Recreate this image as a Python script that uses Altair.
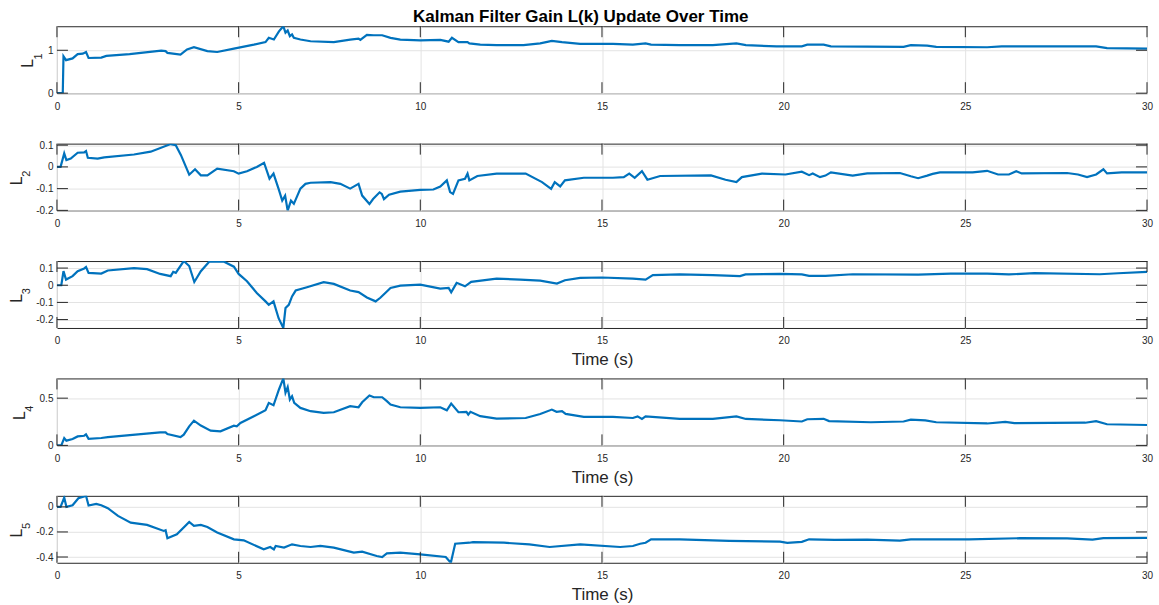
import altair as alt
import pandas as pd

# ---------------- data ----------------
t1 = [0, 0.16, 0.18, 0.25, 0.43, 0.57, 0.71, 0.8, 0.87, 1.22, 1.36, 2.0, 2.87, 2.99, 3.04, 3.4, 3.58, 3.77, 4.14, 4.41,
      4.87, 5.42, 5.74, 5.83, 5.97, 6.11, 6.23, 6.29, 6.35, 6.41, 6.47, 6.52, 6.7, 6.98, 7.62, 8.07, 8.3, 8.35, 8.53, 8.72,
      8.95, 9.18, 9.45, 10.0, 10.55, 10.78, 10.87, 11.05, 11.3, 11.35, 11.65, 12.1, 12.84, 13.3, 13.62, 13.9, 14.4, 15.3, 15.85, 16.2,
      16.35, 17.14, 18.05, 18.7, 18.96, 19.8, 20.5, 20.65, 21.1, 21.3, 23.3, 23.5, 23.95, 24.2, 25.6, 26.0, 28.4, 28.6, 28.9, 30.0]
v1 = [0, 0, 0.86, 0.77, 0.81, 0.91, 0.92, 0.96, 0.82, 0.83, 0.87, 0.91, 0.99, 0.98, 0.94, 0.90, 1.02, 1.07, 0.98, 0.96,
      1.04, 1.13, 1.19, 1.29, 1.25, 1.44, 1.56, 1.41, 1.46, 1.33, 1.37, 1.29, 1.25, 1.21, 1.19, 1.25, 1.27, 1.24, 1.36, 1.35,
      1.35, 1.29, 1.25, 1.23, 1.24, 1.20, 1.29, 1.19, 1.19, 1.16, 1.13, 1.12, 1.12, 1.16, 1.22, 1.19, 1.15, 1.15, 1.13, 1.16,
      1.13, 1.12, 1.12, 1.16, 1.12, 1.09, 1.09, 1.13, 1.13, 1.09, 1.08, 1.12, 1.11, 1.08, 1.07, 1.09, 1.09, 1.09, 1.05, 1.04]

t2 = [0, 0.1, 0.2, 0.26, 0.38, 0.57, 0.75, 0.8, 0.85, 1.12, 1.3, 2.12, 2.58, 3.13, 3.27, 3.41, 3.64, 3.8, 3.96, 4.14,
      4.41, 4.87, 5.0, 5.23, 5.5, 5.7, 5.85, 5.96, 6.1, 6.2, 6.28, 6.35, 6.44, 6.52, 6.7, 6.84, 6.98, 7.53, 7.8, 8.07,
      8.3, 8.4, 8.6, 8.7, 8.88, 8.94, 9.0, 9.14, 9.45, 10.0, 10.36, 10.55, 10.73, 10.82, 10.9, 11.05, 11.23, 11.3, 11.35, 11.57,
      12.1, 12.9, 13.35, 13.6, 13.7, 13.85, 13.98, 14.5, 15.3, 15.6, 15.75, 15.9, 16.1, 16.25, 16.6, 18.0, 18.4, 18.7, 18.85, 19.4,
      20.05, 20.5, 20.7, 20.8, 21.0, 21.15, 21.3, 21.9, 22.3, 23.2, 23.5, 23.7, 23.95, 24.1, 24.3, 25.2, 25.6, 25.9, 26.2, 26.4,
      26.55, 27.8, 28.1, 28.35, 28.6, 28.8, 28.9, 29.3, 30.0]
v2 = [0, 0, 0.062, 0.031, 0.038, 0.065, 0.067, 0.073, 0.042, 0.038, 0.044, 0.057, 0.070, 0.105, 0.10, 0.055, -0.036, -0.011, -0.039, -0.039,
      -0.008, -0.020, -0.031, -0.020, 0.0, 0.019, -0.054, -0.031, -0.101, -0.155, -0.132, -0.201, -0.155, -0.17, -0.10, -0.078, -0.073, -0.07, -0.078, -0.10,
      -0.078, -0.132, -0.171, -0.148, -0.117, -0.124, -0.148, -0.128, -0.114, -0.106, -0.104, -0.09, -0.062, -0.116, -0.124, -0.062, -0.055, -0.031, -0.062, -0.042,
      -0.031, -0.031, -0.07, -0.101, -0.07, -0.09, -0.062, -0.05, -0.05, -0.047, -0.031, -0.05, -0.02, -0.059, -0.042, -0.039, -0.059, -0.07, -0.047, -0.031,
      -0.035, -0.022, -0.038, -0.03, -0.047, -0.04, -0.025, -0.04, -0.03, -0.028, -0.043, -0.052, -0.04, -0.032, -0.025, -0.025, -0.018, -0.035, -0.035, -0.02,
      -0.03, -0.028, -0.035, -0.047, -0.035, -0.011, -0.03, -0.025, -0.025]

t3 = [0, 0.12, 0.18, 0.25, 0.43, 0.57, 0.75, 0.8, 0.87, 1.22, 1.4, 2.12, 2.48, 2.84, 3.13, 3.2, 3.27, 3.49, 3.64, 3.78,
      3.96, 4.19, 4.6, 4.87, 5.0, 5.23, 5.5, 5.74, 5.83, 5.96, 6.1, 6.23, 6.29, 6.38, 6.47, 6.57, 6.88, 7.34, 7.62, 8.07,
      8.3, 8.53, 8.77, 8.9, 9.18, 9.45, 10.0, 10.55, 10.78, 10.85, 11.0, 11.23, 11.4, 12.1, 12.75, 13.3, 13.76, 13.98, 14.4, 15.0,
      15.85, 16.2, 16.4, 17.14, 18.05, 18.8, 18.95, 19.9, 20.5, 20.7, 21.15, 21.9, 23.7, 24.6, 25.6, 26.2, 26.9, 28.7, 29.2, 30.0]
v3 = [0, 0, 0.082, 0.033, 0.053, 0.082, 0.098, 0.106, 0.072, 0.068, 0.086, 0.10, 0.094, 0.066, 0.053, 0.078, 0.072, 0.141, 0.112, 0.019,
      0.082, 0.137, 0.137, 0.108, 0.066, 0.023, -0.045, -0.094, -0.114, -0.094, -0.192, -0.249, -0.133, -0.114, -0.065, -0.031, -0.012, 0.018, 0.008, -0.031,
      -0.04, -0.071, -0.094, -0.073, -0.016, -0.002, 0.004, -0.02, -0.016, -0.041, 0.014, -0.006, 0.02, 0.039, 0.033, 0.027, 0.01, 0.029, 0.043, 0.045,
      0.039, 0.033, 0.059, 0.063, 0.059, 0.053, 0.063, 0.066, 0.063, 0.055, 0.055, 0.064, 0.062, 0.068, 0.068, 0.063, 0.07, 0.064, 0.07, 0.078]

t4 = [0, 0.12, 0.2, 0.26, 0.43, 0.57, 0.75, 0.8, 0.87, 1.22, 1.4, 2.84, 2.99, 3.04, 3.4, 3.49, 3.64, 3.77, 3.96, 4.23,
      4.5, 4.87, 4.95, 5.05, 5.42, 5.74, 5.83, 5.96, 6.11, 6.23, 6.29, 6.35, 6.41, 6.47, 6.53, 6.7, 6.98, 7.34, 7.62, 8.07,
      8.3, 8.4, 8.6, 8.72, 8.95, 9.08, 9.18, 9.45, 10.0, 10.55, 10.73, 10.85, 11.05, 11.27, 11.32, 11.38, 11.65, 12.1, 12.9, 13.3,
      13.62, 13.75, 13.9, 14.0, 14.5, 15.3, 15.85, 15.98, 16.1, 16.2, 17.14, 18.05, 18.7, 18.96, 19.9, 20.5, 20.65, 21.1, 21.25, 22.4,
      23.3, 23.5, 23.9, 24.2, 25.6, 26.1, 26.35, 28.3, 28.6, 28.9, 30.0]
v4 = [0, 0, 0.078, 0.05, 0.067, 0.095, 0.102, 0.116, 0.07, 0.078, 0.088, 0.138, 0.138, 0.12, 0.088, 0.113, 0.202, 0.262, 0.21, 0.156,
      0.149, 0.209, 0.202, 0.237, 0.309, 0.372, 0.45, 0.425, 0.592, 0.709, 0.557, 0.617, 0.486, 0.521, 0.45, 0.397, 0.362, 0.344, 0.351, 0.415,
      0.404, 0.457, 0.528, 0.51, 0.51, 0.468, 0.432, 0.404, 0.397, 0.404, 0.372, 0.443, 0.351, 0.355, 0.326, 0.355, 0.309, 0.283, 0.29, 0.333,
      0.379, 0.355, 0.362, 0.333, 0.301, 0.301, 0.29, 0.307, 0.28, 0.307, 0.28, 0.28, 0.307, 0.28, 0.266, 0.253, 0.277, 0.281, 0.257, 0.245,
      0.253, 0.273, 0.265, 0.245, 0.232, 0.249, 0.236, 0.24, 0.257, 0.224, 0.216]

t5 = [0, 0.1, 0.2, 0.26, 0.43, 0.59, 0.75, 0.8, 0.87, 1.08, 1.22, 1.4, 1.68, 2.03, 2.48, 2.94, 2.99, 3.04, 3.3, 3.64,
      3.77, 3.96, 4.14, 4.41, 4.87, 5.14, 5.69, 5.87, 5.97, 6.02, 6.25, 6.47, 6.7, 6.98, 7.25, 7.62, 8.17, 8.4, 8.8, 8.95,
      9.08, 9.45, 10.0, 10.7, 10.84, 10.96, 11.35, 11.45, 12.3, 13.0, 13.56, 14.4, 15.5, 15.85, 16.05, 16.2, 16.35, 17.14, 18.5, 19.9,
      20.1, 20.5, 20.7, 21.4, 22.3, 23.2, 23.5, 25.1, 26.5, 27.8, 28.5, 28.8, 30.0]
v5 = [0, 0, 0.074, 0.0, 0.013, 0.069, 0.083, 0.088, 0.011, 0.024, 0.013, -0.011, -0.072, -0.126, -0.144, -0.192, -0.187, -0.251, -0.219, -0.12,
      -0.152, -0.144, -0.16, -0.205, -0.259, -0.267, -0.339, -0.32, -0.339, -0.312, -0.325, -0.299, -0.312, -0.32, -0.312, -0.325, -0.365, -0.357, -0.392, -0.4,
      -0.371, -0.365, -0.379, -0.4, -0.446, -0.294, -0.286, -0.282, -0.286, -0.299, -0.32, -0.299, -0.32, -0.312, -0.294, -0.286, -0.259, -0.259, -0.272, -0.277,
      -0.287, -0.279, -0.259, -0.264, -0.262, -0.27, -0.259, -0.259, -0.25, -0.252, -0.262, -0.25, -0.247]

x_ticks = [0, 5, 10, 15, 20, 25, 30]
y_base = "L"
y_subs = ["1", "2", "3", "4", "5"]
y_domains = [[0, 1.56], [-0.201, 0.107], [-0.249, 0.141], [0, 0.709], [-0.446, 0.088]]
y_ticks = [[0, 1], [-0.2, -0.1, 0, 0.1], [-0.2, -0.1, 0, 0.1], [0, 0.5], [-0.4, -0.2, 0]]
show_time_title = [False, False, True, True, True]
series = [(t1, v1), (t2, v2), (t3, v3), (t4, v4), (t5, v5)]

for tt, vv in series:
    assert len(tt) == len(vv), (len(tt), len(vv))

W, H = 1091, 67
TICK = 11
AX = "#262626"
FONT = "Liberation Sans"
# horizontal placement (baseline, px left of the plot) of the rotated "L" per panel
L_OFFSET = [-23.5, -35, -35, -32, -35]
SUB_DROP = 8.5


def panel(i):
    tt, vv = series[i]
    df = pd.DataFrame({"t": tt, "v": vv})
    xaxis = alt.Axis(values=x_ticks, title="Time (s)" if show_time_title[i] else None,
                     labelExpr="toString(datum.value)", labelFlush=False, labelOverlap=False,
                     ticks=False, tickSize=0, domain=False, grid=True, labelPadding=8)
    yaxis = alt.Axis(values=y_ticks[i], title=None, labelExpr="toString(datum.value)",
                     labelFlush=False, labelOverlap=False, ticks=False, tickSize=0,
                     domain=False, grid=True, labelPadding=4)
    xs = alt.Scale(domain=[0, 30], nice=False, zero=False)
    ys = alt.Scale(domain=y_domains[i], nice=False, zero=False)
    X = alt.X("t:Q", scale=xs, axis=xaxis)
    Y = alt.Y("v:Q", scale=ys, axis=yaxis)

    line = alt.Chart(df).mark_line(color="#0072BD", strokeWidth=2.2, clip=True).encode(x=X, y=Y)

    xt = pd.DataFrame({"t": x_ticks})
    yt = pd.DataFrame({"v": y_ticks[i]})
    top = alt.Chart(xt).mark_rule(color=AX, strokeWidth=1).encode(x=X, y=alt.value(0), y2=alt.value(TICK))
    bot = alt.Chart(xt).mark_rule(color=AX, strokeWidth=1).encode(x=X, y=alt.value(H - TICK), y2=alt.value(H))
    left = alt.Chart(yt).mark_rule(color=AX, strokeWidth=1).encode(y=Y, x=alt.value(0), x2=alt.value(TICK))
    right = alt.Chart(yt).mark_rule(color=AX, strokeWidth=1).encode(y=Y, x=alt.value(W - TICK), x2=alt.value(W))

    lab = pd.DataFrame({"base": [y_base], "sub": [y_subs[i]]})
    ltxt = alt.Chart(lab).mark_text(font=FONT, fontSize=16, color=AX, angle=270, align="center",
                                    baseline="alphabetic").encode(
        text="base:N", x=alt.value(L_OFFSET[i]), y=alt.value(H / 2 + 3.7))
    stxt = alt.Chart(lab).mark_text(font=FONT, fontSize=11, color=AX, angle=270, align="center",
                                    baseline="alphabetic").encode(
        text="sub:N", x=alt.value(L_OFFSET[i] + SUB_DROP), y=alt.value(H / 2 - 3.3))

    return alt.layer(line, top, bot, left, right, ltxt, stxt).properties(width=W, height=H)


chart = alt.vconcat(
    *[panel(i) for i in range(5)],
    spacing=50.5,
    bounds="flush",
    title=alt.TitleParams(text="Kalman Filter Gain L(k) Update Over Time", font=FONT, fontSize=17,
                          fontWeight="bold", color="#000000", anchor="middle", offset=-1),
).properties(
    padding={"left": 8, "top": 8, "right": 5, "bottom": 5},
    background="white",
).configure_view(
    stroke=AX, strokeWidth=1
).configure_axis(
    labelFont=FONT, labelFontSize=10, labelColor=AX,
    titleFont=FONT, titleColor=AX, titleFontWeight="normal",
    gridColor="#e3e3e3", gridWidth=1,
).configure_axisX(
    titleFontSize=17, titlePadding=6,
)

chart.save("out.html", embed_options={"renderer": "svg", "actions": False})
